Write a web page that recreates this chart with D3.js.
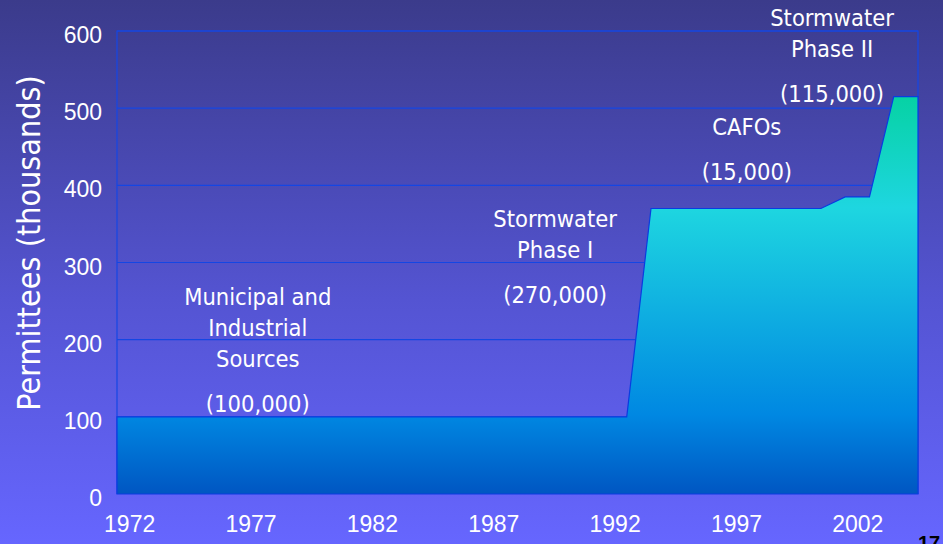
<!DOCTYPE html>
<html>
<head>
<meta charset="utf-8">
<script src="https://cdn.jsdelivr.net/npm/d3@7"></script>
<style>
body { margin: 0; }
.lbl { font-family: "DejaVu Sans Condensed", "DejaVu Sans", sans-serif; font-stretch: condensed; fill: #fff; }
.tick text { font-family: "Liberation Sans", Arial, sans-serif; font-size: 23px; fill: #fff; }
</style>
</head>
<body>
<div class="chart"></div>
<script>
// permittee counts (thousands) by year
var years = [1972, 1993, 1994, 2001, 2002, 2003, 2004, 2005]
var permittees = [100, 100, 370, 370, 385, 385, 515, 515]
var xTickYears = [1972, 1977, 1982, 1987, 1992, 1997, 2002]
var yTicks = [0, 100, 200, 300, 400, 500, 600]

// annotations: lines of text + the year / value they sit over
var notes = [
    {lines: ["Municipal and", "Industrial", "Sources"], count: "(100,000)", year: 1977.8, val: 245},
    {lines: ["Stormwater", "Phase I"], count: "(270,000)", year: 1990.05, val: 346},
    {lines: ["CAFOs"], count: "(15,000)", year: 1997.95, val: 465},
    {lines: ["Stormwater", "Phase II"], count: "(115,000)", year: 2001.46, val: 606}
]

var W = 943, H = 544
var margin = {top: 31, right: 25, bottom: 50, left: 117}
var width = W - margin.left - margin.right
var height = H - margin.top - margin.bottom

var xScale = d3.scaleLinear().domain([1972, 2005]).range([0, width])
var yScale = d3.scaleLinear().domain([0, 600]).range([height, 0])
var halfYear = (xScale(1973) - xScale(1972)) / 2

var svg = d3.select(".chart").append("svg")
    .attr("width", W)
    .attr("height", H)

var defs = svg.append("defs")
var bg = defs.append("linearGradient").attr("id", "bg")
    .attr("x1", 0).attr("y1", 0).attr("x2", 0).attr("y2", 1)
bg.append("stop").attr("offset", "0%").attr("stop-color", "#3b3b8b")
bg.append("stop").attr("offset", "55%").attr("stop-color", "#5454d2")
bg.append("stop").attr("offset", "100%").attr("stop-color", "#6666ff")

var fill = defs.append("linearGradient").attr("id", "areaFill")
    .attr("gradientUnits", "userSpaceOnUse")
    .attr("x1", 0).attr("x2", 0)
    .attr("y1", yScale(515)).attr("y2", yScale(0))
fill.append("stop").attr("offset", "0%").attr("stop-color", "#06d2a4")
fill.append("stop").attr("offset", "28%").attr("stop-color", "#1ed6e0")
fill.append("stop").attr("offset", "80%").attr("stop-color", "#0088e2")
fill.append("stop").attr("offset", "100%").attr("stop-color", "#0056c2")

svg.append("rect").attr("width", W).attr("height", H).attr("fill", "url(#bg)")

var g = svg.append("g")
    .attr("transform", "translate(" + margin.left + "," + margin.top + ")")

// grid lines
g.selectAll(".grid")
    .data(yTicks.slice(1))
    .enter().append("line")
    .attr("class", "grid")
    .attr("x1", 0).attr("x2", width)
    .attr("y1", d => yScale(d)).attr("y2", d => yScale(d))
    .attr("stroke", "#1446e4")
    .attr("stroke-width", 1.2)

// plot frame
g.append("path")
    .attr("d", "M0," + height + "V0H" + width + "V" + height)
    .attr("fill", "none")
    .attr("stroke", "#1446e4")
    .attr("stroke-width", 1.2)

var area = d3.area()
    .x((d, i) => xScale(years[i]))
    .y0(yScale(0))
    .y1(d => yScale(d))

g.append("path")
    .datum(permittees)
    .attr("d", area)
    .attr("fill", "url(#areaFill)")
    .attr("stroke", "#0a3ce0")
    .attr("stroke-width", 1.2)

// axes
var yAxis = d3.axisLeft(yScale).tickValues(yTicks).tickSize(0).tickPadding(15)
g.append("g").call(yAxis)
    .call(a => a.select(".domain").remove())
    .selectAll("text").attr("dy", "0.5em")

var xAxis = d3.axisBottom(xScale).tickValues(xTickYears).tickFormat(d3.format("d")).tickSize(0).tickPadding(22)
g.append("g")
    .attr("transform", "translate(0," + height + ")")
    .call(xAxis)
    .call(a => a.select(".domain").remove())
    .selectAll("text").attr("dx", halfYear)

// y title
svg.append("text")
    .attr("class", "lbl")
    .attr("transform", "translate(40,243) rotate(-90)")
    .attr("text-anchor", "middle")
    .style("font-size", "32px")
    .text("Permittees (thousands)")

// annotations
notes.forEach(n => {
    var cx = xScale(n.year) + margin.left
    var y0 = yScale(n.val) + margin.top
    var t = svg.append("text")
        .attr("class", "lbl")
        .attr("text-anchor", "middle")
        .style("font-size", "23.5px")
    n.lines.forEach((l, i) => {
        t.append("tspan").attr("x", cx).attr("y", y0 + i * 31).text(l)
    })
    t.append("tspan").attr("x", cx).attr("y", y0 + (n.lines.length - 1) * 31 + 45).text(n.count)
})

// slide number
svg.append("text")
    .attr("x", 929).attr("y", 550)
    .attr("text-anchor", "middle")
    .style("font-family", "Liberation Sans, Arial, sans-serif")
    .style("font-weight", "bold")
    .style("font-size", "20px")
    .attr("fill", "#000")
    .text("17")
</script>
</body>
</html>
